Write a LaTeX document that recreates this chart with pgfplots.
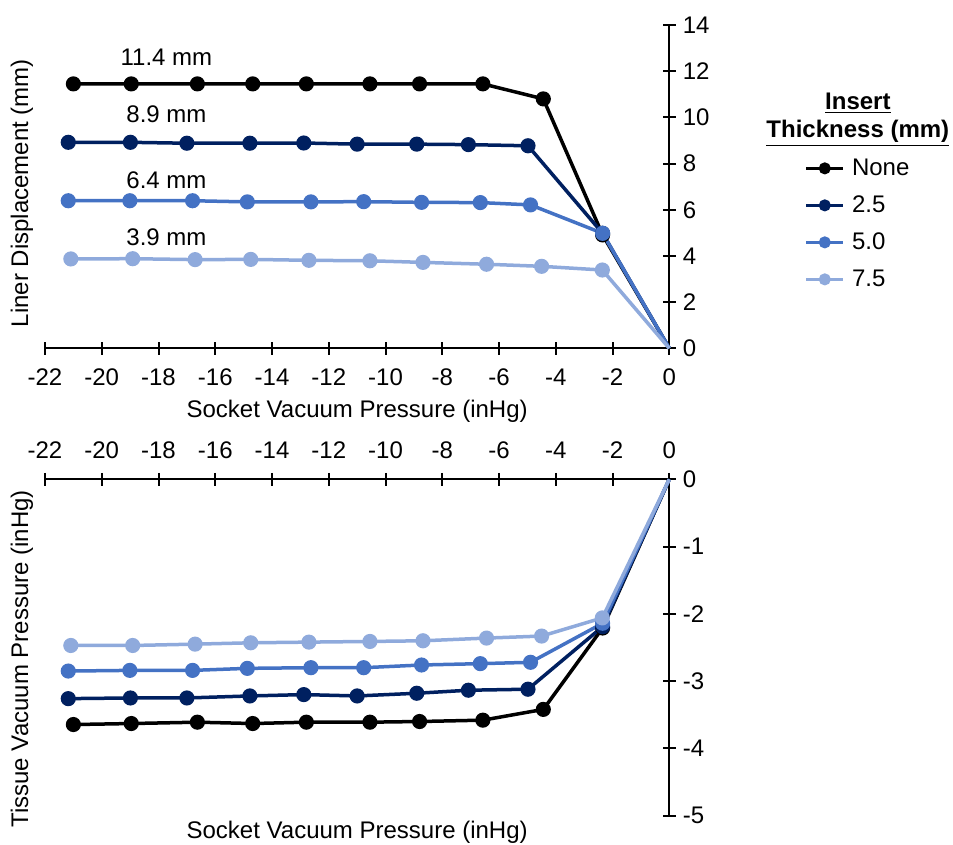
\documentclass[border=0pt]{standalone}
\usepackage{pgfplots}
\pgfplotsset{compat=1.18}
\usepackage{pgfplotstable}
\usepackage{fontspec}
\setmainfont{Liberation Sans}

\definecolor{cNone}{HTML}{000000}
\definecolor{cA}{HTML}{002060}
\definecolor{cB}{HTML}{4472C4}
\definecolor{cC}{HTML}{8FAADC}

\pgfplotstableread{
x top bot
-21.00 11.45 -3.645
-18.96 11.45 -3.63
-16.63 11.45 -3.61
-14.68 11.45 -3.63
-12.79 11.45 -3.61
-10.55 11.45 -3.61
-8.80  11.45 -3.60
-6.57  11.45 -3.58
-4.44  10.80 -3.42
-2.35  4.91  -2.21
0      0     0
}\tblNone
\pgfplotstableread{
x top bot
-21.18 8.92 -3.26
-18.99 8.92 -3.25
-17.00 8.88 -3.25
-14.78 8.88 -3.22
-12.88 8.89 -3.20
-11.00 8.84 -3.22
-8.90  8.84 -3.18
-7.08  8.82 -3.135
-4.98  8.77 -3.12
-2.35  4.98 -2.19
0      0    0
}\tblA
\pgfplotstableread{
x top bot
-21.18 6.39 -2.85
-19.01 6.39 -2.84
-16.80 6.39 -2.84
-14.87 6.34 -2.81
-12.63 6.34 -2.80
-10.77 6.35 -2.80
-8.73  6.32 -2.76
-6.66  6.31 -2.74
-4.89  6.21 -2.72
-2.35  4.98 -2.14
0      0    0
}\tblB
\pgfplotstableread{
x top bot
-21.09 3.87 -2.47
-18.91 3.88 -2.47
-16.71 3.84 -2.45
-14.75 3.85 -2.43
-12.70 3.81 -2.42
-10.55 3.79 -2.41
-8.68  3.72 -2.40
-6.44  3.64 -2.36
-4.50  3.55 -2.33
-2.36  3.39 -2.06
0      0    0
}\tblC

\newcommand{\lbf}{\fontsize{12}{14}\selectfont}

\pgfplotsset{
  common/.style={
    scale only axis, width=312.15pt,
    xmin=-22, xmax=0, xtick={-22,-20,...,0},
    clip=false, tick align=center, major tick length=6.5pt,
    every tick/.style={line width=1pt, black},
    /pgf/number format/assume math mode=true,
    tick label style={font=\lbf},
    every axis plot/.append style={line width=1.75pt, mark=*, mark size=2.9pt,
      mark indices={1,2,3,4,5,6,7,8,9,10}},
    every mark/.append style={line width=0.5pt},
    legend image code/.code={
      \draw[#1, mark=none] (0cm,0cm) -- (0.65cm,0cm);
      \draw[#1, only marks, mark size=2.1pt] plot coordinates {(0.325cm,0cm)};
    },
  },
  nolinearrows/.style={
    axis line style={line width=1pt,-},
    every outer x axis line/.append style={-},
    every outer y axis line/.append style={-},
    every inner x axis line/.append style={-},
    every inner y axis line/.append style={-},
  }
}

\begin{document}
\begin{tikzpicture}
\useasboundingbox (0,0) rectangle (476.5pt,-422.5pt);

\begin{axis}[common,
  at={(22.5pt,-174.15pt)}, anchor=south west,
  height=161.65pt,
  ymin=0, ymax=14, ytick={0,2,...,14},
  axis x line=bottom, axis y line=right,
  nolinearrows,
  xticklabel style={yshift=-3.5pt},
  xlabel={Socket Vacuum Pressure (inHg)},
  ylabel={Liner Displacement (mm)},
  xlabel style={at={(axis description cs:0.5,-0.194)}, anchor=center, font=\lbf},
  ylabel style={at={(axis description cs:-0.037,0.48)}, anchor=center, rotate=0, font=\lbf},
  legend style={at={(axis description cs:1.216,0.598)}, anchor=north west,
    draw=none, fill=none, inner sep=0pt, row sep=5.5pt, column sep=2.5pt,
    nodes={inner sep=1pt, text height=9pt, text depth=2pt, font=\lbf}},
  legend cell align=left,
]
\addplot[color=cNone] table[x=x, y=top] {\tblNone};
\addlegendentry{None}
\addplot[color=cA] table[x=x, y=top] {\tblA};
\addlegendentry{2.5}
\addplot[color=cB] table[x=x, y=top] {\tblB};
\addlegendentry{5.0}
\addplot[color=cC] table[x=x, y=top] {\tblC};
\addlegendentry{7.5}
\node[font=\lbf] at (axis cs:-17.72,12.6) {11.4 mm};
\node[font=\lbf] at (axis cs:-17.72,10.15) {8.9 mm};
\node[font=\lbf] at (axis cs:-17.72,7.29) {6.4 mm};
\node[font=\lbf] at (axis cs:-17.72,4.83) {3.9 mm};
\node[font=\lbf\bfseries, align=center] at (axis description cs:1.302,0.706)
  {\underline{Insert}\\\underline{Thickness (mm)}};
\end{axis}

\begin{axis}[common,
  at={(22.5pt,-407.85pt)}, anchor=south west,
  height=168.2pt,
  ymin=-5, ymax=0, ytick={-5,-4,...,0},
  axis x line=top, axis y line=right,
  nolinearrows,
  xticklabel style={yshift=3.5pt},
  xlabel={Socket Vacuum Pressure (inHg)},
  ylabel={Tissue Vacuum Pressure (inHg)},
  xlabel style={at={(axis description cs:0.5,-0.048)}, anchor=center, font=\lbf},
  ylabel style={at={(axis description cs:-0.037,0.466)}, anchor=center, rotate=0, font=\lbf},
]
\addplot[color=cNone] table[x=x, y=bot] {\tblNone};
\addplot[color=cA] table[x=x, y=bot] {\tblA};
\addplot[color=cB] table[x=x, y=bot] {\tblB};
\addplot[color=cC] table[x=x, y=bot] {\tblC};
\end{axis}
\end{tikzpicture}
\end{document}
